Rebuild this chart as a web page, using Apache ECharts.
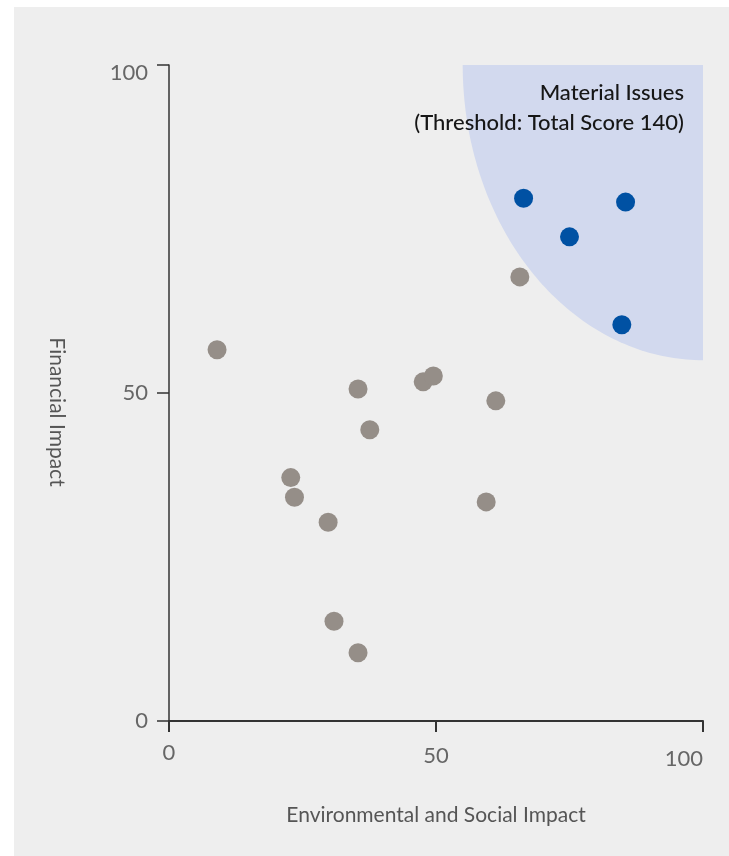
<!DOCTYPE html>
<html>
<head>
<meta charset="utf-8">
<script src="https://cdn.jsdelivr.net/npm/echarts@6/dist/echarts.min.js"></script>
<style>
  html, body { margin: 0; padding: 0; background: #ffffff; }
  #panel { position: absolute; left: 14px; top: 7px; width: 715px; height: 849px; background: #eeeeee; }
  #chart { position: absolute; left: 0; top: 0; width: 729px; height: 856px; }
</style>
</head>
<body>
<div id="panel"></div>
<div id="chart"></div>
<script>
// ---- data ----
const xAxisTitle = 'Environmental and Social Impact';
const yAxisTitle = 'Financial Impact';
const axisTicks = [0, 50, 100];
const regionLabel = ['Material Issues', '(Threshold: Total Score 140)'];
const regionCorner = [100, 100];
const regionRadius = 45;

// issues below threshold: [E&S impact, financial impact]
const otherIssues = [
  [9.0, 56.6],
  [35.4, 50.6],
  [37.6, 44.4],
  [47.6, 51.7],
  [49.5, 52.6],
  [22.8, 37.1],
  [23.5, 34.1],
  [29.8, 30.3],
  [30.9, 15.2],
  [35.4, 10.4],
  [61.2, 48.8],
  [59.4, 33.4],
  [65.7, 67.7]
];
// material issues
const materialIssues = [
  [66.4, 79.7],
  [85.5, 79.1],
  [75.0, 73.8],
  [84.8, 60.4]
];

const chart = echarts.init(document.getElementById('chart'), null, { renderer: 'canvas' });
const FONT = 'Lato, "Noto Sans", sans-serif';

const option = {
  backgroundColor: 'transparent',
  animation: false,
  grid: { left: 169, right: 26, top: 65, bottom: 135, containLabel: false },
  xAxis: {
    type: 'value', min: 0, max: 100, interval: 50,
    name: xAxisTitle, nameLocation: 'middle', nameGap: 84,
    nameTextStyle: { fontFamily: FONT, fontSize: 21, color: '#555555' },
    axisLine: { show: true, onZero: false, lineStyle: { color: '#333333', width: 2 } },
    axisTick: { show: true, length: 11, lineStyle: { color: '#333333', width: 2 } },
    axisLabel: {
      margin: 21, fontFamily: FONT, fontSize: 22, color: '#666666', alignMaxLabel: 'right',
      formatter: function (v) { return v === 0 ? '{a|0}' : (v === 50 ? '{b|50}' : '{c|' + v + '}'); },
      rich: {
        a: { fontFamily: FONT, fontSize: 22, color: '#666666' },
        b: { fontFamily: FONT, fontSize: 22, color: '#666666', padding: [3, 0, 0, 0] },
        c: { fontFamily: FONT, fontSize: 22, color: '#666666', padding: [6, 0, 0, 0] }
      }
    },
    splitLine: { show: false }
  },
  yAxis: {
    type: 'value', min: 0, max: 100, interval: 50,
    name: yAxisTitle, nameLocation: 'middle', nameGap: 102, nameRotate: -90,
    nameTextStyle: { fontFamily: FONT, fontSize: 21, color: '#555555', padding: [0, 0, 0, 38] },
    axisLine: { show: true, onZero: false, lineStyle: { color: '#333333', width: 1.5 } },
    axisTick: { show: true, length: 12, lineStyle: { color: '#333333', width: 1.5 } },
    axisLabel: {
      margin: 21, fontFamily: FONT, fontSize: 22, color: '#666666',
      formatter: function (v) { return v === 100 ? '{t|100}' : '{n|' + v + '}'; },
      rich: {
        n: { fontFamily: FONT, fontSize: 22, color: '#666666' },
        t: { fontFamily: FONT, fontSize: 22, color: '#666666', padding: [16, 0, 0, 0] }
      }
    },
    splitLine: { show: false }
  },
  graphic: [
    {
      type: 'text', right: 45, top: 82, z: 100,
      style: { text: regionLabel[0], fontFamily: FONT, fontSize: 22, fontWeight: 500, fill: '#161616' }
    },
    {
      type: 'text', right: 45, top: 112, z: 100,
      style: { text: regionLabel[1], fontFamily: FONT, fontSize: 22, fontWeight: 500, fill: '#161616' }
    }
  ],
  series: [
    {
      type: 'custom',
      z: 1,
      silent: true,
      clip: true,
      data: [[regionCorner[0], regionCorner[1], regionRadius]],
      renderItem: function (params, api) {
        const cx = api.value(0), cy = api.value(1), r = api.value(2);
        const pts = [api.coord([cx, cy])];
        const steps = 90;
        for (let i = 0; i <= steps; i++) {
          const a = Math.PI + (Math.PI / 2) * (i / steps);
          pts.push(api.coord([cx + r * Math.cos(a), cy + r * Math.sin(a)]));
        }
        return {
          type: 'polygon',
          shape: { points: pts },
          style: { fill: '#d2d9ee' }
        };
      }
    },
    {
      type: 'scatter',
      z: 3,
      symbolSize: 19,
      itemStyle: { color: '#958e88', opacity: 1 },
      data: otherIssues
    },
    {
      type: 'scatter',
      z: 4,
      symbolSize: 19,
      itemStyle: { color: '#0051a3', opacity: 1 },
      data: materialIssues
    }
  ]
};
chart.setOption(option);
</script>
</body>
</html>
